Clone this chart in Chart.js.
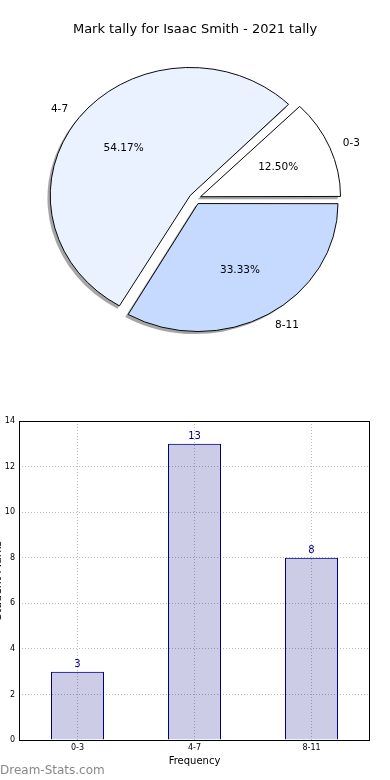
<!DOCTYPE html>
<html>
<head>
<meta charset="utf-8">
<script src="https://cdn.jsdelivr.net/npm/chart.js@4"></script>
<style>
	html, body { margin: 0; padding: 0; background: #fff; width: 390px; height: 780px; overflow: hidden; position: relative; }
	#pieChart { position: absolute; left: 0; top: 0; }
	#barChart { position: absolute; left: -8px; top: 400px; }
	#mark { position: absolute; left: 0; top: 763px; font: 12px "DejaVu Sans"; line-height: 14px; color: #888; }
</style>
</head>
<body>
<canvas id="pieChart" width="390" height="360"></canvas>
<canvas id="barChart" width="398" height="380"></canvas>
<div id="mark">Dream-Stats.com</div>
<script>
const categories = ["0-3", "4-7", "8-11"];
const tallies = [3, 13, 8];
const yTicks = [0, 2, 4, 6, 8, 10, 12, 14];
const chartTitle = "Mark tally for Isaac Smith - 2021 tally";
const xTitle = "Frequency";
const yTitle = "Student Marks";

const sliceColors = ["#ffffff", "#eaf1ff", "#c6d9ff"];
const pieRadius = 140;
const explodeDist = 6;
const ySquash = 128 / 140;

Chart.defaults.font.family = "DejaVu Sans";
Chart.defaults.color = "#000";

const total = tallies.reduce((a, b) => a + b, 0);

// matplotlib starts at east and goes counter-clockwise, chart.js goes clockwise
const pieLabels = categories.slice().reverse();
const pieValues = tallies.slice().reverse();
const pieColors = sliceColors.slice().reverse();

// chart.js shifts a slice by offset/4 and also grows its radius, so shrink it back
const growth = (a) => {
	const circ = a.endAngle - a.startAngle;
	return explodeDist * (1 - Math.sin(Math.min(Math.PI, circ)));
};

const piePlugin = {
	id: "pieExtras",
	afterUpdate(chart) {
		chart.getDatasetMeta(0).data.forEach((a) => {
			a.outerRadius = pieRadius - growth(a);
		});
	},
	beforeDatasetsDraw(chart) {
		const ctx = chart.ctx;
		const arcs = chart.getDatasetMeta(0).data;
		const cx = arcs[0].x;
		const cy = arcs[0].y;
		ctx.save();
		ctx.translate(cx, cy);
		ctx.scale(1, ySquash);
		ctx.translate(-cx, -cy);
		arcs.forEach((a) => {
			const mid = (a.startAngle + a.endAngle) / 2;
			const sx = a.x + Math.cos(mid) * explodeDist - 2.8;
			const sy = a.y + Math.sin(mid) * explodeDist + 2.8;
			ctx.beginPath();
			ctx.moveTo(sx, sy);
			ctx.arc(sx, sy, pieRadius, a.startAngle, a.endAngle);
			ctx.closePath();
			ctx.fillStyle = "rgba(77, 77, 77, 0.5)";
			ctx.fill();
		});
	},
	afterDatasetsDraw(chart) {
		const ctx = chart.ctx;
		ctx.restore();
		const arcs = chart.getDatasetMeta(0).data;
		ctx.save();
		ctx.fillStyle = "#000";
		ctx.font = "10.5px 'DejaVu Sans'";
		ctx.textBaseline = "middle";
		arcs.forEach((a, i) => {
			const mid = (a.startAngle + a.endAngle) / 2;
			const c = Math.cos(mid);
			const s = Math.sin(mid);
			const at = (r) => [a.x + c * (explodeDist + r), a.y + s * (explodeDist + r) * ySquash];
			const lp = at(pieRadius * 1.1);
			ctx.textAlign = c > 0 ? "left" : "right";
			ctx.fillText(pieLabels[i], lp[0], lp[1]);
			const pp = at(pieRadius * 0.6);
			ctx.textAlign = "center";
			ctx.fillText(((pieValues[i] / total) * 100).toFixed(2) + "%", pp[0], pp[1]);
		});
		ctx.restore();
	},
};

new Chart(document.getElementById("pieChart"), {
	type: "pie",
	data: {
		labels: pieLabels,
		datasets: [
			{
				data: pieValues,
				backgroundColor: pieColors,
				borderColor: "#000",
				borderWidth: 1,
				borderJoinStyle: "miter",
				offset: explodeDist * 4,
			},
		],
	},
	options: {
		responsive: false,
		animation: false,
		rotation: 90,
		radius: pieRadius,
		layout: { padding: 0 },
		plugins: {
			legend: { display: false },
			tooltip: { enabled: false },
			title: {
				display: true,
				text: chartTitle,
				color: "#000",
				font: { size: 13, weight: "normal" },
				padding: { top: 22, bottom: 0 },
			},
		},
	},
	plugins: [piePlugin],
});

const barPlugin = {
	id: "barExtras",
	afterDatasetsDraw(chart) {
		const ctx = chart.ctx;
		const area = chart.chartArea;
		ctx.save();
		ctx.strokeStyle = "#000";
		ctx.lineWidth = 1;
		ctx.strokeRect(Math.round(area.left) + 0.5, Math.round(area.top) + 0.5, Math.round(area.right - area.left) - 1, Math.round(area.bottom - area.top));
		ctx.fillStyle = "#000080";
		ctx.font = "10px 'DejaVu Sans'";
		ctx.textAlign = "center";
		ctx.textBaseline = "middle";
		chart.getDatasetMeta(0).data.forEach((bar, i) => {
			ctx.fillText(String(tallies[i]), bar.x, bar.y - 7);
		});
		ctx.restore();
	},
};

new Chart(document.getElementById("barChart"), {
	type: "bar",
	data: {
		labels: categories,
		datasets: [
			{
				data: tallies,
				backgroundColor: "rgba(0, 0, 128, 0.2)",
				borderColor: "#000080",
				borderWidth: 1,
				barPercentage: 53 / 117,
				categoryPercentage: 1,
			},
		],
	},
	options: {
		responsive: false,
		animation: false,
		layout: { padding: { left: 0, right: 20, top: 21, bottom: 0 } },
		plugins: {
			legend: { display: false },
			tooltip: { enabled: false },
		},
		scales: {
			x: {
				grid: { offset: false, color: "#bbbbbb", lineWidth: 1, drawTicks: false },
				border: { display: false, dash: [1, 2] },
				ticks: { font: { size: 8 }, color: "#000", padding: 3 },
				title: { display: true, text: xTitle, color: "#000", font: { size: 10 }, padding: { top: 0, bottom: 13 } },
				afterFit: (s) => {
					s.height = 40;
				},
			},
			y: {
				min: 0,
				max: 14,
				grid: { color: "#bbbbbb", lineWidth: 1, drawTicks: false },
				border: { display: false, dash: [1, 2] },
				ticks: { font: { size: 8 }, color: "#000", padding: 4 },
				title: { display: true, text: yTitle, color: "#000", font: { size: 11 }, padding: 0 },
				afterBuildTicks: (s) => {
					s.ticks = yTicks.map((v) => ({ value: v }));
				},
				afterFit: (s) => {
					s.width = 27;
				},
			},
		},
	},
	plugins: [barPlugin],
});
</script>
</body>
</html>
